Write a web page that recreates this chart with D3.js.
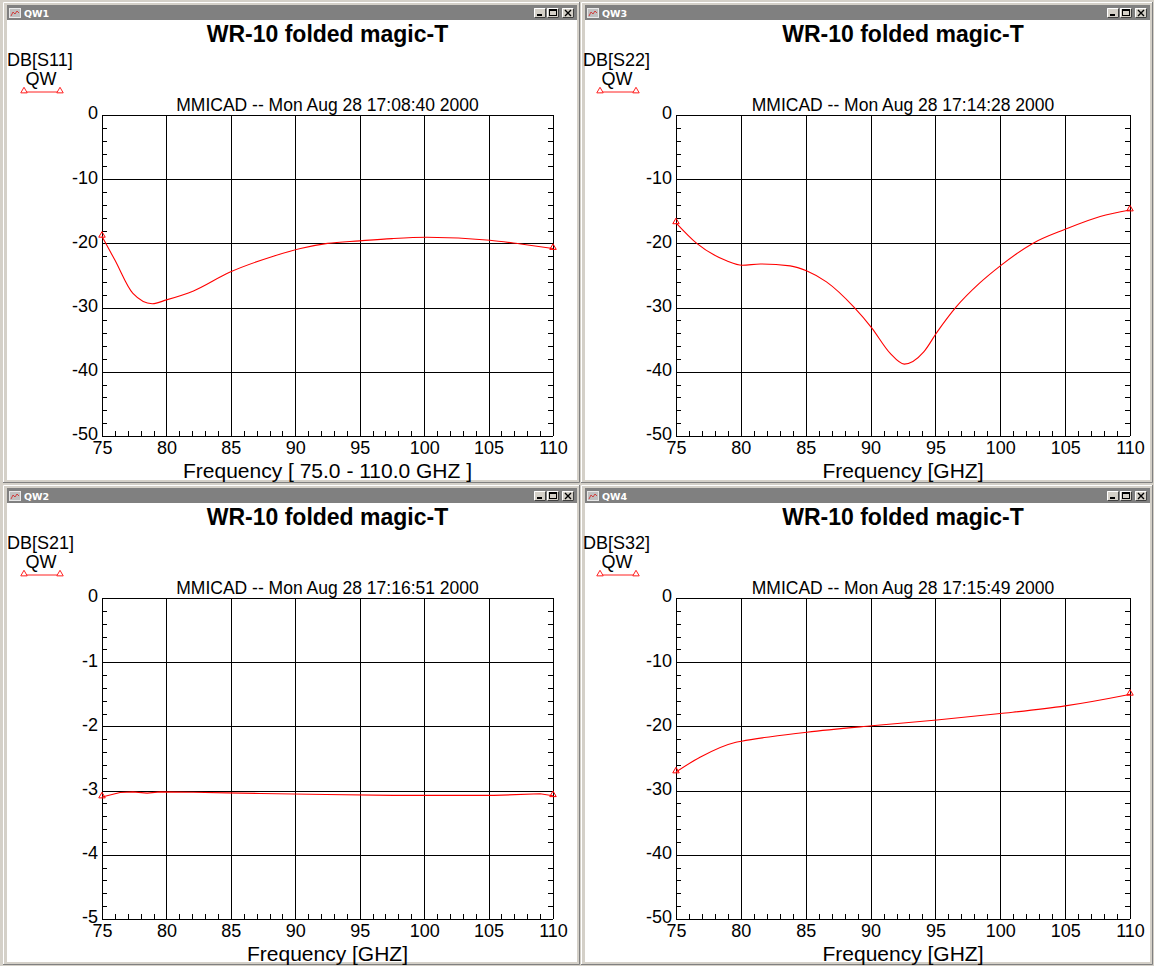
<!DOCTYPE html>
<html><head><meta charset="utf-8">
<script src="https://cdn.jsdelivr.net/npm/d3@7"></script>
<style>html,body{margin:0;padding:0;background:#d4d0c8;overflow:hidden}svg{display:block}</style>
</head><body>
<svg id="c" width="1154" height="966"></svg>
<script>
// ---------- data ----------
const freqTicks = [75, 80, 85, 90, 95, 100, 105, 110];
const dbTicks = [0, -10, -20, -30, -40, -50];
const s21Ticks = [0, -1, -2, -3, -4, -5];

const freqS11 = [75, 76, 77.4, 78.9, 80, 82.1, 84.9, 88.3, 90.4, 92.5, 95, 97.5, 100.2, 105.1, 107.5, 110];
const dbS11   = [-18.9, -22.6, -27.8, -29.4, -28.8, -27.4, -24.5, -22.0, -20.8, -20.0, -19.6, -19.25, -19.05, -19.5, -20.1, -20.8];

const freqS22 = [75, 76.6, 78.9, 80.1, 81.5, 83.8, 85.1, 86.6, 88.7, 90.1, 91.5, 92.6, 94.1, 95.1, 96.6, 98.4, 100, 102.5, 105, 107.7, 110];
const dbS22   = [-16.8, -20.0, -22.7, -23.4, -23.2, -23.5, -24.3, -26.0, -29.9, -33.2, -37.1, -38.8, -36.9, -33.9, -29.9, -26.2, -23.5, -20.0, -17.8, -15.8, -14.8];

const freqS21 = [75, 76.4, 77.4, 78.5, 79.5, 82.1, 84.7, 87.3, 92.4, 97.6, 102.8, 105.4, 109, 110];
const dbS21   = [-3.10, -3.03, -3.02, -3.04, -3.02, -3.025, -3.035, -3.045, -3.06, -3.075, -3.075, -3.075, -3.05, -3.08];

const freqS32 = [75, 76.85, 79.55, 80.05, 82.3, 85.1, 90.1, 95.1, 100, 105, 109.75, 110];
const dbS32   = [-27.1, -24.8, -22.5, -22.3, -21.6, -20.9, -19.9, -19.0, -18.0, -16.8, -15.1, -15.0];

const windowTitles = ['QW1', 'QW3', 'QW2', 'QW4'];
const chartTitle = 'WR-10 folded magic-T';
const traceNames = ['DB[S11]', 'DB[S22]', 'DB[S21]', 'DB[S32]'];
const legendName = 'QW';
const stamps = ['MMICAD -- Mon Aug 28 17:08:40 2000', 'MMICAD -- Mon Aug 28 17:14:28 2000',
                'MMICAD -- Mon Aug 28 17:16:51 2000', 'MMICAD -- Mon Aug 28 17:15:49 2000'];
const xTitles = ['Frequency [ 75.0 - 110.0 GHZ ]', 'Frequency [GHZ]', 'Frequency [GHZ]', 'Frequency [GHZ]'];

// ---------- layout ----------
const FONT = '"Liberation Sans", Arial, Helvetica, sans-serif';
const layout = [
  {wx: 3,   wy: 2,   ww: 577, wh: 481, px0: 102, px1: 553,  py0: 115, py1: 436, lx: 7},
  {wx: 581, wy: 2,   ww: 572, wh: 481, px0: 676, px1: 1130, py0: 115, py1: 436, lx: 583},
  {wx: 3,   wy: 485, ww: 577, wh: 480, px0: 102, px1: 553,  py0: 598, py1: 919, lx: 7},
  {wx: 581, wy: 485, ww: 572, wh: 480, px0: 676, px1: 1130, py0: 598, py1: 919, lx: 583}
];
const series = [
  {freq: freqS11, db: dbS11, yTicks: dbTicks, minor: 2, curve: d3.curveMonotoneX},
  {freq: freqS22, db: dbS22, yTicks: dbTicks, minor: 2, curve: d3.curveMonotoneX},
  {freq: freqS21, db: dbS21, yTicks: s21Ticks, minor: 0.2, curve: d3.curveLinear},
  {freq: freqS32, db: dbS32, yTicks: dbTicks, minor: 2, curve: d3.curveMonotoneX}
];

const svg = d3.select('#c');
svg.append('rect').attr('width', 1154).attr('height', 966).attr('fill', '#d4d0c8');

const tri = d3.symbol().type(d3.symbolTriangle).size(18);

function button(g, x, y, kind) {
  const b = g.append('g').attr('transform', `translate(${x},${y})`);
  b.append('rect').attr('width', 12).attr('height', 10).attr('fill', '#d4d0c8');
  b.append('path').attr('d', 'M0.5,9.5V0.5H11.5').attr('stroke', '#fff').attr('fill', 'none');
  b.append('path').attr('d', 'M0.5,9.5H11.5V0.5').attr('stroke', '#404040').attr('fill', 'none');
  if (kind === 'min') b.append('rect').attr('x', 3).attr('y', 6).attr('width', 5).attr('height', 2).attr('fill', '#000');
  if (kind === 'max') {
    b.append('rect').attr('x', 2.5).attr('y', 1.5).attr('width', 7).attr('height', 6).attr('fill', 'none').attr('stroke', '#000');
    b.append('rect').attr('x', 2.5).attr('y', 1.5).attr('width', 7).attr('height', 1.5).attr('fill', '#000');
  }
  if (kind === 'close') b.append('path').attr('d', 'M3,2L9,8M9,2L3,8').attr('stroke', '#000').attr('stroke-width', 1.4);
}

layout.forEach((L, i) => {
  const S = series[i];
  const g = svg.append('g');
  // window frame
  g.append('rect').attr('x', L.wx).attr('y', L.wy).attr('width', L.ww).attr('height', L.wh).attr('fill', '#d4d0c8');
  g.append('path').attr('d', `M${L.wx + 0.5},${L.wy + L.wh}V${L.wy + 0.5}H${L.wx + L.ww}`).attr('stroke', '#ffffff').attr('fill', 'none');
  g.append('path').attr('d', `M${L.wx},${L.wy + L.wh - 0.5}H${L.wx + L.ww - 0.5}V${L.wy}`).attr('stroke', '#808080').attr('fill', 'none');
  // content & title bar
  const cx0 = L.wx + 4, cx1 = L.wx + L.ww - 3;
  g.append('rect').attr('x', cx0).attr('y', L.wy + 18).attr('width', cx1 - cx0).attr('height', L.wh - 21).attr('fill', '#fff');
  g.append('rect').attr('x', cx0).attr('y', L.wy + 3).attr('width', cx1 - cx0).attr('height', 15).attr('fill', '#808080');
  // icon
  const ic = g.append('g').attr('transform', `translate(${cx0 + 2},${L.wy + 6})`);
  ic.append('rect').attr('x', 0.5).attr('y', 0.5).attr('width', 11).attr('height', 9).attr('fill', '#c0c0c0').attr('stroke', '#e8e8e8');
  ic.append('path').attr('d', 'M2,8L4,4L6,6L8,3L10,5').attr('stroke', '#d03030').attr('fill', 'none').attr('stroke-width', 0.9);
  g.append('text').attr('x', cx0 + 17).attr('y', L.wy + 14.5).text(windowTitles[i])
    .attr('font-family', '"DejaVu Sans", Tahoma, sans-serif').attr('font-weight', 'bold').attr('font-size', 9.5).attr('fill', '#fff');
  button(g, cx1 - 43, L.wy + 6, 'min');
  button(g, cx1 - 30, L.wy + 6, 'max');
  button(g, cx1 - 15, L.wy + 6, 'close');

  // scales
  const x = d3.scaleLinear().domain([freqTicks[0], freqTicks[freqTicks.length - 1]]).range([L.px0, L.px1]);
  const y = d3.scaleLinear().domain([d3.min(S.yTicks), d3.max(S.yTicks)]).range([L.py1, L.py0]);
  const pc = (L.px0 + L.px1) / 2;
  const oy = L.wy - 2;

  // titles
  g.append('text').attr('x', pc).attr('y', oy + 42).attr('text-anchor', 'middle').text(chartTitle)
    .attr('font-family', FONT).attr('font-weight', 'bold').attr('font-size', 23);
  g.append('text').attr('x', pc).attr('y', oy + 110.5).attr('text-anchor', 'middle').text(stamps[i])
    .attr('font-family', FONT).attr('font-size', 17.5);
  g.append('text').attr('x', pc).attr('y', L.py1 + 41.5).attr('text-anchor', 'middle').text(xTitles[i])
    .attr('font-family', FONT).attr('font-size', 21);

  // legend
  g.append('text').attr('x', L.lx).attr('y', oy + 66).text(traceNames[i]).attr('font-family', FONT).attr('font-size', 18);
  g.append('text').attr('x', L.lx + 34).attr('y', oy + 85).attr('text-anchor', 'middle').text(legendName).attr('font-family', FONT).attr('font-size', 18);
  const ly = oy + 92;
  g.append('line').attr('x1', L.lx + 17).attr('x2', L.lx + 53).attr('y1', ly).attr('y2', ly).attr('stroke', '#ff2020').attr('stroke-width', 1);
  [L.lx + 17, L.lx + 53].forEach(tx => g.append('path').attr('d', tri()).attr('transform', `translate(${tx},${ly - 1})`)
    .attr('fill', '#fff').attr('stroke', '#ff2020').attr('stroke-width', 1));

  // grid
  const grid = g.append('g').attr('stroke', '#000').attr('stroke-width', 1).attr('shape-rendering', 'crispEdges');
  grid.selectAll('.vx').data(freqTicks).join('line')
    .attr('x1', d => Math.round(x(d)) + 0.5).attr('x2', d => Math.round(x(d)) + 0.5).attr('y1', L.py0).attr('y2', L.py1);
  grid.selectAll('.hy').data(S.yTicks).join('line')
    .attr('y1', d => Math.round(y(d)) + 0.5).attr('y2', d => Math.round(y(d)) + 0.5).attr('x1', L.px0).attr('x2', L.px1);

  // minor ticks
  const yDom = y.domain();
  const minorY = d3.range(Math.round((yDom[1] - yDom[0]) / S.minor) + 1).map(k => yDom[0] + k * S.minor);
  grid.selectAll('.my').data(minorY).join('path')
    .attr('d', d => { const yy = Math.round(y(d)) + 0.5; return `M${L.px0},${yy}h5M${L.px1},${yy}h-5`; });
  const xDom = x.domain();
  const minorX = d3.range(xDom[1] - xDom[0] + 1).map(k => xDom[0] + k);
  grid.selectAll('.mx').data(minorX).join('path')
    .attr('d', d => { const xx = Math.round(x(d)) + 0.5; return `M${xx},${L.py1}v-5`; });

  // axes (labels)
  const ax = g.append('g').attr('transform', `translate(${L.px0},0)`)
    .call(d3.axisLeft(y).tickValues(S.yTicks).tickFormat(d => String(d)).tickSize(0).tickPadding(4));
  ax.select('.domain').remove();
  ax.selectAll('text').attr('font-family', FONT).attr('font-size', 18).attr('fill', '#000').attr('dy', '0.22em');
  const bx = g.append('g').attr('transform', `translate(0,${L.py1})`)
    .call(d3.axisBottom(x).tickValues(freqTicks).tickFormat(d => String(d)).tickSize(0).tickPadding(5.5));
  bx.select('.domain').remove();
  bx.selectAll('text').attr('font-family', FONT).attr('font-size', 18).attr('fill', '#000');

  // trace
  const pts = S.freq.map((f, k) => [f, S.db[k]]);
  const line = d3.line().x(d => x(d[0])).y(d => y(d[1])).curve(S.curve);
  g.append('path').datum(pts).attr('d', line).attr('fill', 'none').attr('stroke', '#ff0000').attr('stroke-width', 1.1);
  [pts[0], pts[pts.length - 1]].forEach(p => g.append('path').attr('d', tri())
    .attr('transform', `translate(${x(p[0])},${y(p[1]) - 1})`).attr('fill', 'none').attr('stroke', '#ff0000'));
});
</script>
</body></html>
